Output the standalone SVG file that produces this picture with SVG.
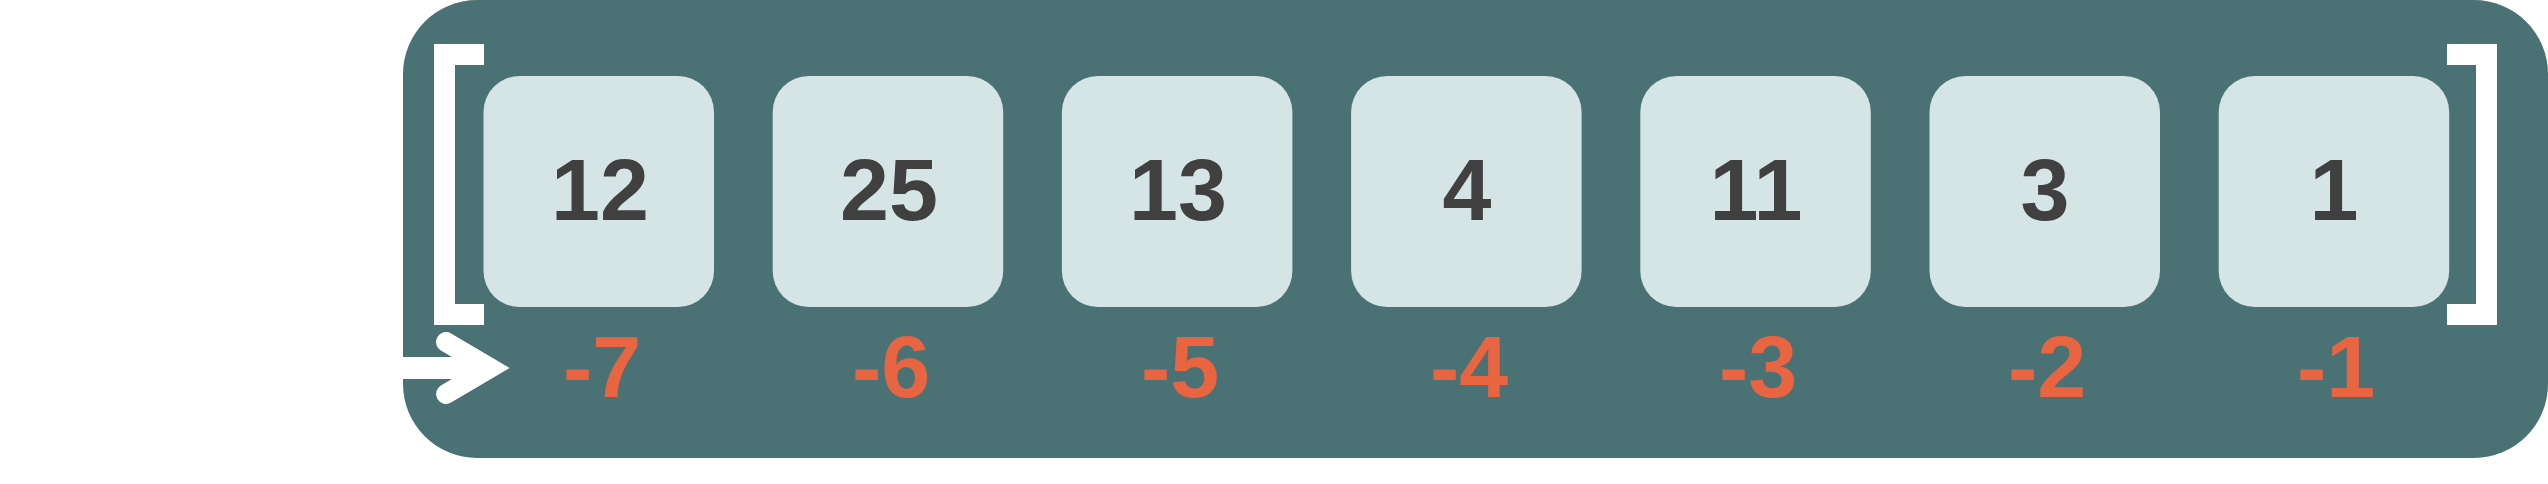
<svg xmlns="http://www.w3.org/2000/svg" width="2548" height="484" viewBox="0 0 2548 484">
<style>
.bg{fill:#4A7274}
.cell{fill:#D5E4E5}
.val{font-family:"Liberation Sans",Arial,sans-serif;font-weight:bold;font-size:88px;fill:#404040;text-anchor:middle}
.idx{font-family:"Liberation Sans",Arial,sans-serif;font-weight:bold;font-size:88px;fill:#E96441;text-anchor:middle}
.br{fill:#FFFFFF}
</style>
<rect width="2548" height="484" fill="#FFFFFF"/>
<rect class="bg" x="403" y="0" width="2145" height="458" rx="74" ry="74"/>
<g id="brackets">
<path class="br" d="M434,44 H484 V65 H455 V304 H484 V325 H434 Z"/>
<path class="br" d="M2497,44 H2447 V65 H2476 V304 H2447 V325 H2497 Z"/>
</g>
<g id="connectors">
<rect x="403" y="357" width="70" height="22" fill="#FFFFFF"/>
<polyline points="446,342 490,368 446,394" fill="none" stroke="#FFFFFF" stroke-width="20" stroke-linejoin="miter" stroke-linecap="round" stroke-miterlimit="4"/>
</g>
<g id="node-0"><rect class="cell" x="483.5" y="76" width="230.5" height="231" rx="36"/><text class="val" x="600" y="220">12</text><text class="idx" x="602" y="397">-7</text></g>
<g id="node-1"><rect class="cell" x="772.7" y="76" width="230.5" height="231" rx="36"/><text class="val" x="889" y="220">25</text><text class="idx" x="891" y="397">-6</text></g>
<g id="node-2"><rect class="cell" x="1061.9" y="76" width="230.5" height="231" rx="36"/><text class="val" x="1178" y="220">13</text><text class="idx" x="1180" y="397">-5</text></g>
<g id="node-3"><rect class="cell" x="1351.1" y="76" width="230.5" height="231" rx="36"/><text class="val" x="1467" y="220">4</text><text class="idx" x="1469" y="397">-4</text></g>
<g id="node-4"><rect class="cell" x="1640.3" y="76" width="230.5" height="231" rx="36"/><text class="val" x="1756" y="220">11</text><text class="idx" x="1758" y="397">-3</text></g>
<g id="node-5"><rect class="cell" x="1929.5" y="76" width="230.5" height="231" rx="36"/><text class="val" x="2045" y="220">3</text><text class="idx" x="2047" y="397">-2</text></g>
<g id="node-6"><rect class="cell" x="2218.7" y="76" width="230.5" height="231" rx="36"/><text class="val" x="2334" y="220">1</text><text class="idx" x="2336" y="397">-1</text></g>
</svg>
